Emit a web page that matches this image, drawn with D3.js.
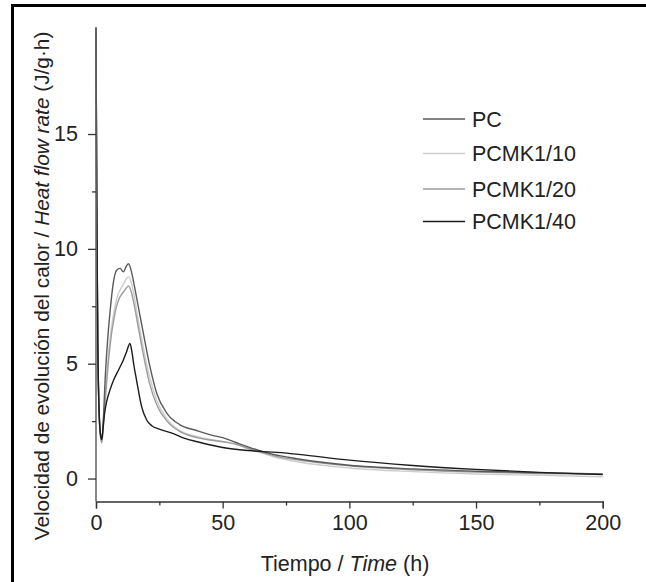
<!DOCTYPE html>
<html><head><meta charset="utf-8">
<script src="https://cdn.jsdelivr.net/npm/d3@7"></script>
<style>
html,body{margin:0;padding:0;background:#fff;}
svg{display:block;font-family:"Liberation Sans",Arial,sans-serif;}
</style></head>
<body>
<svg id="chart" width="646" height="582"></svg>
<script>
// ---- data ----
const seriesNames = ["PC", "PCMK1/10", "PCMK1/20", "PCMK1/40"];
const seriesColors = ["#5a5a5a", "#cdcdcd", "#9c9c9c", "#1c1c1c"];

const timePC   = [0, 0.3, 0.7, 1.2, 1.8, 2.3, 3.0, 3.6, 4.5, 5.5, 6.8, 8.2, 9.5, 10.8, 12.0, 12.8, 14.0, 14.7, 16.7, 18.7, 21.3, 24, 28, 33, 40, 46, 50, 55, 60, 65, 70, 80, 100, 125, 150, 175, 200];
const valuePC  = [19.6, 12, 6, 3, 1.9, 1.7, 2.8, 4.3, 5.9, 7.2, 8.5, 9.08, 9.15, 9.0, 9.25, 9.35, 9.0, 8.64, 7.48, 6.32, 4.87, 3.7, 2.84, 2.35, 2.08, 1.88, 1.78, 1.58, 1.38, 1.2, 1.05, 0.85, 0.58, 0.42, 0.32, 0.25, 0.2];

const time10   = [0, 0.3, 0.7, 1.2, 1.8, 2.3, 3.0, 4.0, 5.0, 6.0, 7.0, 8.0, 9.0, 10.0, 11.0, 12.0, 13.0, 14.0, 15.0, 16.5, 18.5, 21, 24, 28, 33, 40, 50, 55, 60, 65, 70, 80, 100, 125, 150, 175, 200];
const value10  = [19.6, 12, 6, 3, 1.8, 1.62, 2.6, 4.1, 5.5, 6.5, 7.2, 7.75, 8.1, 8.3, 8.5, 8.7, 8.78, 8.5, 8.0, 7.0, 5.8, 4.5, 3.4, 2.6, 2.1, 1.82, 1.62, 1.5, 1.3, 1.12, 0.95, 0.72, 0.46, 0.3, 0.2, 0.14, 0.08];

const time20   = [0, 0.3, 0.7, 1.2, 1.8, 2.3, 3.0, 4.0, 5.0, 6.0, 7.0, 8.0, 9.0, 10.0, 11.0, 12.0, 12.8, 14.0, 15.0, 16.5, 18.5, 21, 24, 28, 33, 40, 50, 55, 60, 65, 70, 80, 100, 125, 150, 175, 200];
const value20  = [19.6, 12, 6, 3, 1.8, 1.55, 2.5, 3.9, 5.2, 6.2, 6.9, 7.45, 7.8, 8.0, 8.15, 8.3, 8.38, 8.1, 7.6, 6.7, 5.5, 4.2, 3.2, 2.5, 2.05, 1.78, 1.6, 1.5, 1.32, 1.15, 1.0, 0.8, 0.55, 0.38, 0.28, 0.22, 0.19];

const time40   = [0, 0.3, 0.7, 1.2, 1.8, 2.3, 2.8, 3.4, 4.2, 5.5, 7.0, 9.0, 10.8, 12.0, 13.4, 14.2, 15.0, 16.0, 18.0, 20.0, 22, 25, 30, 35, 40, 50, 60, 66, 70, 80, 100, 125, 150, 175, 200];
const value40  = [19.6, 12, 6, 3, 1.9, 1.7, 2.2, 2.85, 3.35, 3.85, 4.3, 4.75, 5.16, 5.5, 5.88, 5.5, 4.9, 4.29, 3.13, 2.55, 2.3, 2.15, 1.98, 1.75, 1.6, 1.35, 1.22, 1.17, 1.15, 1.05, 0.8, 0.57, 0.4, 0.27, 0.17];

const xTickValues = [0, 50, 100, 150, 200];
const xMinorTicks = [25, 75, 125, 175];
const yTickValues = [0, 5, 10, 15];
const yMinorTicks = [2.5, 7.5, 12.5];

const xTitleA = "Tiempo / ", xTitleB = "Time", xTitleC = " (h)";
const yTitleA = "Velocidad de evolución del calor / ", yTitleB = "Heat flow rate", yTitleC = " (J/g·h)";

// ---- drawing ----
const svg = d3.select("#chart");
const x = d3.scaleLinear().domain([0, 200]).range([96, 602.7]);
const y = d3.scaleLinear().domain([-1, 19.66]).range([501.5, 27]);

// frame
svg.append("path").attr("d", "M12.5,700 L12.5,5.5 L700,5.5")
  .attr("fill", "none").attr("stroke", "#000").attr("stroke-width", 3);

const series = [
  {name: seriesNames[0], color: seriesColors[0], t: timePC, v: valuePC},
  {name: seriesNames[1], color: seriesColors[1], t: time10, v: value10},
  {name: seriesNames[2], color: seriesColors[2], t: time20, v: value20},
  {name: seriesNames[3], color: seriesColors[3], t: time40, v: value40}
];

const line = d3.line().x(d => x(d[0])).y(d => y(d[1])).curve(d3.curveMonotoneX);
const drawOrder = [1, 2, 0, 3];
drawOrder.forEach(i => {
  const s = series[i];
  svg.append("path").datum(s.t.map((t, k) => [t, s.v[k]]))
    .attr("fill", "none").attr("stroke", s.color).attr("stroke-width", 1.4)
    .attr("d", line);
});

const fs = 21.5;
// x axis
const xAxis = svg.append("g").attr("transform", `translate(0,${y(-1)})`)
  .call(d3.axisBottom(x).tickValues(xTickValues).tickSize(7).tickPadding(6.5).tickFormat(d3.format("d")));
const xMinor = svg.append("g").attr("transform", `translate(0,${y(-1)})`)
  .call(d3.axisBottom(x).tickValues(xMinorTicks).tickSize(4).tickFormat(""));
xMinor.select(".domain").remove();
// y axis
const yAxis = svg.append("g").attr("transform", `translate(${x(0)},0)`)
  .call(d3.axisLeft(y).tickValues(yTickValues).tickSize(8).tickPadding(10).tickFormat(d3.format("d")));
const yMinor = svg.append("g").attr("transform", `translate(${x(0)},0)`)
  .call(d3.axisLeft(y).tickValues(yMinorTicks).tickSize(4).tickFormat(""));
yMinor.select(".domain").remove();

[xAxis, yAxis, xMinor, yMinor].forEach(g => {
  g.selectAll("text").attr("font-size", fs).attr("fill", "#222").attr("font-family", "Liberation Sans, Arial, sans-serif");
  g.selectAll("line").attr("stroke", "#333").attr("stroke-width", 1.3);
  g.select(".domain").attr("stroke", "#333").attr("stroke-width", 1.3);
});
yAxis.select(".domain").attr("d", `M0,${y(-1)}V${y(19.66)}`).attr("stroke", "#6a6a6a").attr("stroke-width", 1.6);

// axis titles
const xt = svg.append("text").attr("x", 345).attr("y", 571).attr("text-anchor", "middle")
  .attr("font-size", fs).attr("fill", "#222");
xt.append("tspan").text(xTitleA);
xt.append("tspan").attr("font-style", "italic").text(xTitleB);
xt.append("tspan").text(xTitleC);

const yt = svg.append("text").attr("transform", "translate(49,286) rotate(-90)").attr("text-anchor", "middle")
  .attr("font-size", 20.8).attr("fill", "#222");
yt.append("tspan").text(yTitleA);
yt.append("tspan").attr("font-style", "italic").text(yTitleB);
yt.append("tspan").text(yTitleC);

// legend
const legendY = [119, 153.5, 189, 221.5];
series.forEach((s, i) => {
  svg.append("line").attr("x1", 423).attr("x2", 465).attr("y1", legendY[i]).attr("y2", legendY[i])
    .attr("stroke", s.color).attr("stroke-width", 1.6);
  svg.append("text").attr("x", 472).attr("y", legendY[i] + 7.7).attr("font-size", fs)
    .attr("fill", "#222").text(s.name);
});
</script>
</body></html>
